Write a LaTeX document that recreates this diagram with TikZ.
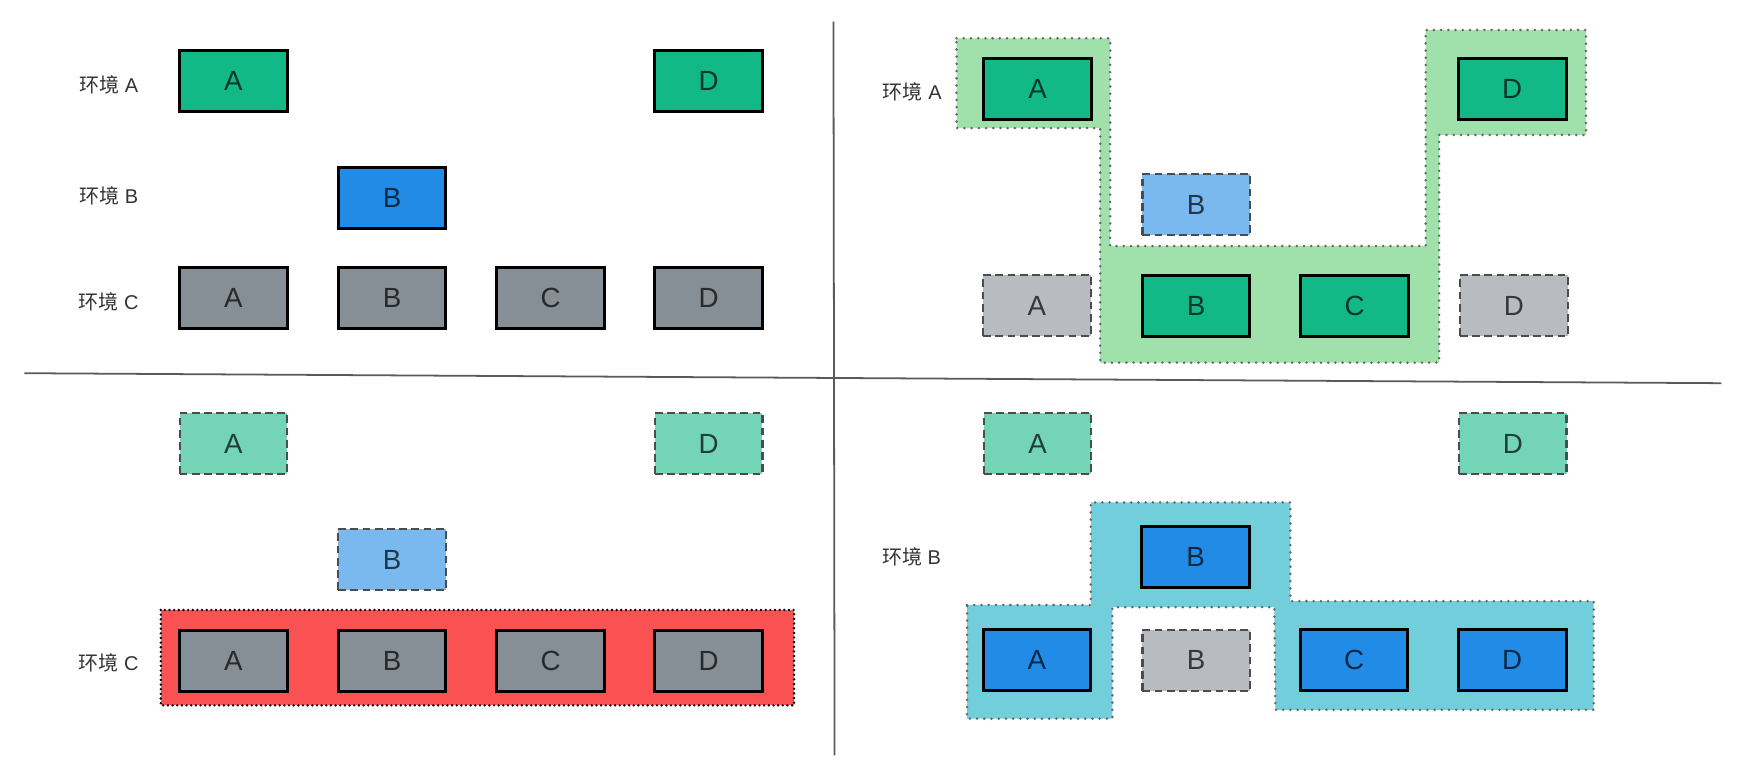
\documentclass[tikz,border=0pt]{standalone}
\usepackage{fontspec}
\setmainfont{Liberation Sans}
\newfontfamily\cjk{Noto Sans CJK SC}
\definecolor{cgreen}{HTML}{12B886}
\definecolor{cblue}{HTML}{228BE6}
\definecolor{cgray}{HTML}{868E96}
\definecolor{lgreen}{HTML}{73D5B5}
\definecolor{lblue}{HTML}{7AB9EF}
\definecolor{lgray}{HTML}{B8BCC0}
\definecolor{rgreen}{HTML}{A0E0AA}
\definecolor{rred}{HTML}{FA5252}
\definecolor{rcyan}{HTML}{73CEDB}
\definecolor{divcol}{HTML}{5A5A5A}
\definecolor{labcol}{HTML}{333333}
\tikzset{
  box/.style={minimum width=97pt, minimum height=55pt, inner sep=0pt,
    font=\fontsize{25}{25}\selectfont, text=black, text opacity=0.7},
  solidbox/.style={box, draw=black, line width=2.7pt},
  dashbox/.style={box, draw=black!70, line width=2.1pt, dash pattern=on 7pt off 4pt},
  regiondot/.style={draw=black!60, line width=2.5pt, line cap=round, dash pattern=on 0pt off 6.5pt},
  reddot/.style={draw=black, line width=2.4pt, line cap=round, dash pattern=on 0pt off 4.2pt},
  lab/.style={font=\fontsize{18}{18}\selectfont, text=labcol, inner sep=0pt},
  divider/.style={draw=divcol, line width=1.6pt}
}
\begin{document}
\begin{tikzpicture}[x=1pt,y=-1pt]
\useasboundingbox[fill=white] (0,0) rectangle (1568,698.8);

% dividers
\coordinate (hl) at (22,336.5);
\coordinate (hr) at (1552,345.5);
\coordinate (vt) at (751.5,19.5);
\coordinate (vb) at (752.5,681);
\draw[divider] (hl) -- (hr);
\draw[divider] (vt) -- (vb);

% ---------- top-left ----------
\node[lab] (tlLa) at (98,76.5) {{\cjk 环境} A};
\node[lab] (tlLb) at (98,176.5) {{\cjk 环境} B};
\node[lab] (tlLc) at (98,272) {{\cjk 环境} C};
\node[solidbox, fill=cgreen] (tlA) at (210.5,73) {A};
\node[solidbox, fill=cgreen] (tlD) at (639,73) {D};
\node[solidbox, fill=cblue] (tlB) at (353.5,178.5) {B};
\node[solidbox, fill=cgray] (tlCa) at (210.5,269) {A};
\node[solidbox, fill=cgray] (tlCb) at (353.5,269) {B};
\node[solidbox, fill=cgray] (tlCc) at (496.5,269) {C};
\node[solidbox, fill=cgray] (tlCd) at (639,269) {D};

% ---------- top-right ----------
\filldraw[fill=rgreen, regiondot] (862.5,34.5) -- (1001,34.5) -- (1001,221.8) -- (1285.5,221.8)
  -- (1285.5,27) -- (1430,27) -- (1430,121.7) -- (1297.6,121.7) -- (1297.6,327)
  -- (992,327) -- (992,115.5) -- (862.5,115.5) -- cycle;
\node[lab] (trLa) at (822.5,82.7) {{\cjk 环境} A};
\node[solidbox, fill=cgreen] (trA) at (935.5,80) {A};
\node[solidbox, fill=cgreen] (trD) at (1363.5,80) {D};
\node[dashbox, fill=lblue] (trB) at (1078.5,184.5) {B};
\node[dashbox, fill=lgray] (trCa) at (935,275.5) {A};
\node[solidbox, fill=cgreen] (trCb) at (1078.5,275.5) {B};
\node[solidbox, fill=cgreen] (trCc) at (1221.5,275.5) {C};
\node[dashbox, fill=lgray] (trCd) at (1365,275.5) {D};

% ---------- bottom-left ----------
\filldraw[fill=rred, reddot] (145,550) rectangle (716,636);
\node[lab] (blLc) at (98,598) {{\cjk 环境} C};
\node[dashbox, fill=lgreen] (blA) at (210.5,400) {A};
\node[dashbox, fill=lgreen] (blD) at (639,400) {D};
\node[dashbox, fill=lblue] (blB) at (353.5,504.5) {B};
\node[solidbox, fill=cgray] (blCa) at (210.5,596) {A};
\node[solidbox, fill=cgray] (blCb) at (353.5,596) {B};
\node[solidbox, fill=cgray] (blCc) at (496.5,596) {C};
\node[solidbox, fill=cgray] (blCd) at (639,596) {D};

% ---------- bottom-right ----------
\filldraw[fill=rcyan, regiondot] (872,545.5) -- (983.5,545.5) -- (983.5,453) -- (1163.5,453)
  -- (1163.5,542) -- (1437,542) -- (1437,640) -- (1150,640) -- (1149,547.5)
  -- (1003,547.5) -- (1003,648) -- (872,648) -- cycle;
\node[lab] (brLb) at (822,502.5) {{\cjk 环境} B};
\node[dashbox, fill=lgreen] (brA) at (935.5,400) {A};
\node[dashbox, fill=lgreen] (brD) at (1364,400) {D};
\node[solidbox, fill=cblue] (brB) at (1078,502) {B};
\node[solidbox, fill=cblue] (brCa) at (935,595.5) {A};
\node[dashbox, fill=lgray] (brCb) at (1078.5,595.5) {B};
\node[solidbox, fill=cblue] (brCc) at (1221,595.5) {C};
\node[solidbox, fill=cblue] (brCd) at (1363.5,595.5) {D};
\end{tikzpicture}
\end{document}
